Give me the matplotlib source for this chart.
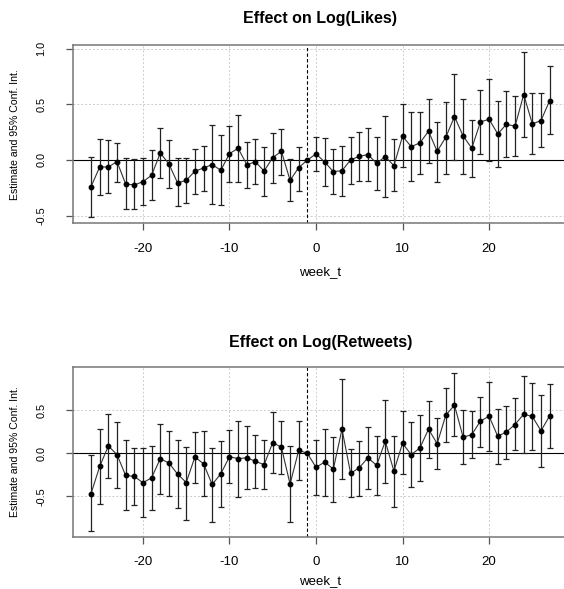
import matplotlib
matplotlib.use("Agg")
import matplotlib.pyplot as plt
import numpy as np

plt.rcParams['font.family'] = ['Liberation Sans', 'DejaVu Sans']

weeks = list(range(-26, 28))

# Effect on Log(Likes): estimate, lower and upper 95% bound (week -1 is the reference)
likes_est = [-0.24, -0.063, -0.063, -0.015, -0.216, -0.225, -0.195, -0.138, 0.063, -0.036,
             -0.207, -0.183, -0.102, -0.072, -0.042, -0.093, 0.057, 0.105, -0.042, -0.018,
             -0.099, 0.021, 0.078, -0.183, -0.069, 0.0, 0.054, -0.018, -0.105, -0.096,
             0.0, 0.033, 0.048, -0.03, 0.03, -0.051, 0.213, 0.12, 0.153, 0.258,
             0.078, 0.204, 0.39, 0.216, 0.105, 0.342, 0.366, 0.234, 0.321, 0.303,
             0.588, 0.324, 0.354, 0.534]
likes_lo = [-0.51, -0.315, -0.297, -0.195, -0.44, -0.44, -0.405, -0.357, -0.162, -0.252,
            -0.414, -0.384, -0.303, -0.282, -0.396, -0.408, -0.195, -0.195, -0.252, -0.216,
            -0.324, -0.21, -0.132, -0.366, -0.276, 0.0, -0.10, -0.23, -0.306, -0.32,
            -0.219, -0.189, -0.189, -0.273, -0.333, -0.282, -0.066, -0.189, -0.123, -0.027,
            -0.195, -0.126, 0.0, -0.126, -0.15, 0.057, -0.006, -0.06, 0.024, 0.033,
            0.207, 0.057, 0.114, 0.231]
likes_hi = [0.03, 0.19, 0.177, 0.15, 0.015, 0.006, 0.015, 0.087, 0.29, 0.183,
            0.018, 0.021, 0.102, 0.123, 0.312, 0.222, 0.309, 0.402, 0.162, 0.186,
            0.12, 0.24, 0.282, 0.006, 0.12, 0.0, 0.21, 0.20, 0.096, 0.129,
            0.21, 0.249, 0.288, 0.207, 0.396, 0.186, 0.50, 0.435, 0.429, 0.546,
            0.339, 0.525, 0.773, 0.546, 0.357, 0.627, 0.728, 0.531, 0.624, 0.573,
            0.974, 0.60, 0.60, 0.842]

# Effect on Log(Retweets)
rt_est = [-0.467, -0.152, 0.086, -0.016, -0.257, -0.268, -0.342, -0.284, -0.062, -0.113,
          -0.241, -0.339, -0.043, -0.121, -0.362, -0.237, -0.039, -0.062, -0.051, -0.093,
          -0.132, 0.125, 0.07, -0.358, 0.035, 0.0, -0.163, -0.101, -0.183, 0.28,
          -0.233, -0.167, -0.051, -0.14, 0.14, -0.206, 0.117, -0.016, 0.062, 0.28,
          0.113, 0.444, 0.56, 0.187, 0.218, 0.374, 0.432, 0.198, 0.249, 0.335,
          0.455, 0.428, 0.261, 0.436]
rt_lo = [-0.899, -0.588, -0.284, -0.397, -0.654, -0.603, -0.743, -0.658, -0.467, -0.494,
         -0.634, -0.77, -0.35, -0.494, -0.794, -0.626, -0.35, -0.51, -0.416, -0.40,
         -0.416, -0.233, -0.241, -0.80, -0.315, 0.0, -0.482, -0.494, -0.564, -0.30,
         -0.51, -0.49, -0.416, -0.479, -0.339, -0.626, -0.245, -0.393, -0.323, -0.054,
         -0.183, 0.132, 0.198, -0.128, -0.054, 0.078, 0.027, -0.121, -0.066, 0.039,
         0.004, 0.035, -0.16, 0.062]
rt_hi = [-0.023, 0.28, 0.455, 0.366, 0.152, 0.058, 0.062, 0.082, 0.339, 0.265,
         0.152, 0.078, 0.245, 0.257, 0.062, 0.14, 0.268, 0.374, 0.315, 0.218,
         0.156, 0.475, 0.381, 0.086, 0.381, 0.0, 0.152, 0.288, 0.195, 0.868,
         0.047, 0.148, 0.304, 0.198, 0.619, 0.206, 0.49, 0.362, 0.444, 0.611,
         0.405, 0.755, 0.93, 0.498, 0.49, 0.658, 0.825, 0.518, 0.545, 0.638,
         0.895, 0.817, 0.677, 0.802]

ref_week = -1
x_ticks = [-20, -10, 0, 10, 20]

W, H = 564, 589
fig = plt.figure(figsize=(W / 100, H / 100), dpi=100)


def panel(rect, est, lo, hi, yticks, title, title_y, xlabel_y):
    ax = fig.add_axes(rect)
    x = np.array(weeks)
    est = np.array(est)
    lo = np.array(lo)
    hi = np.array(hi)
    has_ci = (hi - lo) > 0
    ax.errorbar(x[has_ci], est[has_ci], yerr=[est[has_ci] - lo[has_ci], hi[has_ci] - est[has_ci]],
                fmt='none', ecolor='#222222', elinewidth=0.9, capsize=2.2, capthick=0.9, zorder=3)
    ax.plot(x, est, color='#333333', lw=0.8, zorder=4)
    ax.plot(x, est, 'o', color='black', ms=3.2, zorder=5)
    ax.axhline(0, color='black', lw=0.8, zorder=2)
    ax.axvline(ref_week, color='black', lw=0.8, ls=(0, (3, 2)), zorder=2)

    span = max(hi) - min(lo)
    ax.set_ylim(min(lo) - 0.04 * span, max(hi) + 0.04 * span)
    xspan = weeks[-1] - weeks[0]
    ax.set_xlim(weeks[0] - 0.04 * xspan, weeks[-1] + 0.04 * xspan)

    ax.set_xticks(x_ticks)
    ax.set_yticks(yticks)
    ax.set_yticklabels([f"{v:.1f}" for v in yticks], rotation=90, va='center', fontsize=7.8)
    ax.set_xticklabels([str(v) for v in x_ticks], fontsize=9.5)
    ax.tick_params(axis='x', length=5, pad=9, color='#555555', width=0.9)
    ax.tick_params(axis='y', length=5, pad=14, color='#555555', width=0.9)
    ax.grid(True, color='#cccccc', ls=(0, (2, 2)), lw=0.7, zorder=0)
    ax.set_axisbelow(True)
    for s in ax.spines.values():
        s.set_color('#777777')
        s.set_linewidth(1.1)
    # the plot box runs past the right edge of the picture
    ax.spines['right'].set_visible(False)

    cx = (rect[0] + rect[0] + rect[2]) / 2
    fig.text(cx, 1 - title_y / H, title, ha='center', va='center',
             fontsize=11.5, fontweight='bold')
    fig.text(cx, 1 - xlabel_y / H, 'week_t', ha='center', va='center', fontsize=9.5)
    fig.text(15 / W, rect[1] + rect[3] / 2, 'Estimate and 95% Conf. Int.',
             rotation=90, ha='center', va='center', fontsize=7.6)
    return ax


left = 72.7 / W
width = (568 - 72.7) / W

panel([left, 1 - 223.3 / H, width, (223.3 - 45) / H], likes_est, likes_lo, likes_hi,
      [-0.5, 0.0, 0.5, 1.0], 'Effect on Log(Likes)', 18, 272)
panel([left, 1 - 537 / H, width, (537 - 367) / H], rt_est, rt_lo, rt_hi,
      [-0.5, 0.0, 0.5], 'Effect on Log(Retweets)', 342, 581)

fig.savefig('out.png', dpi=100)
